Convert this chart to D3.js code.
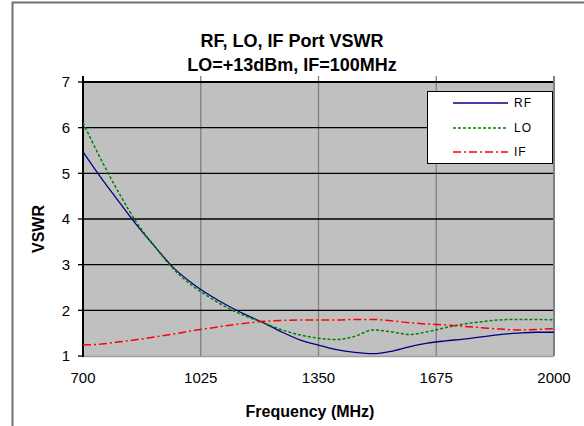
<!DOCTYPE html>
<html><head><meta charset="utf-8">
<script src="https://cdn.jsdelivr.net/npm/d3@7"></script>
<style>body{margin:0;background:#fff}svg{display:block}text{font-family:"Liberation Sans",Arial,sans-serif}</style>
</head><body><svg id="c" width="584" height="426"></svg>
<script>
const freq = [700,750,800,850,900,950,1000,1050,1100,1150,1200,1250,1300,1350,1400,1450,1500,1550,1600,1650,1700,1750,1800,1850,1900,1950,2000];
const rf = [5.47,4.90,4.37,3.85,3.38,2.93,2.60,2.33,2.10,1.90,1.72,1.52,1.35,1.24,1.14,1.08,1.05,1.10,1.20,1.28,1.33,1.37,1.42,1.47,1.50,1.52,1.52];
const lo = [6.11,5.30,4.56,3.90,3.38,2.90,2.55,2.28,2.05,1.87,1.72,1.57,1.46,1.39,1.36,1.43,1.57,1.53,1.47,1.53,1.62,1.70,1.75,1.79,1.80,1.80,1.79];
const ifv = [1.24,1.26,1.31,1.36,1.42,1.48,1.55,1.61,1.67,1.72,1.76,1.78,1.79,1.79,1.79,1.80,1.80,1.77,1.73,1.70,1.68,1.65,1.62,1.59,1.57,1.58,1.60];
const xTicks = [700,1025,1350,1675,2000];
const yTicks = [1,2,3,4,5,6,7];
const seriesNames = ["RF","LO","IF"];

const svg = d3.select("#c");
const L=83, R=554, T=82, B=356;
const x = d3.scaleLinear().domain([700,2000]).range([L,R]);
const y = d3.scaleLinear().domain([1,7]).range([B,T]);

// outer frame
svg.append("rect").attr("x",12.5).attr("y",2.5).attr("width",620).attr("height",460)
  .attr("fill","none").attr("stroke","#707070").attr("stroke-width",2);

// plot bg
svg.append("rect").attr("x",L).attr("y",T).attr("width",R-L).attr("height",B-T).attr("fill","#c0c0c0");

// vertical gridlines + top ticks
svg.append("g").selectAll("line").data(xTicks.slice(1,-1)).join("line")
  .attr("x1",d=>x(d)).attr("x2",d=>x(d)).attr("y1",T-6).attr("y2",B)
  .attr("stroke","#808080").attr("stroke-width",1.3);
// horizontal gridlines
svg.append("g").selectAll("line").data(yTicks.slice(1)).join("line")
  .attr("x1",L).attr("x2",R).attr("y1",d=>y(d)).attr("y2",d=>y(d))
  .attr("stroke","#000").attr("stroke-width",d=>d===7?2:1.3);
// bottom edge
svg.append("line").attr("x1",L).attr("x2",R).attr("y1",B+0.5).attr("y2",B+0.5).attr("stroke","#a0a0a0").attr("stroke-width",1.5);
// right edge
svg.append("line").attr("x1",R).attr("x2",R).attr("y1",T-6).attr("y2",B).attr("stroke","#808080").attr("stroke-width",2);
// left axis
svg.append("line").attr("x1",L).attr("x2",L).attr("y1",T-6).attr("y2",B+1).attr("stroke","#000").attr("stroke-width",2);
// y ticks
svg.append("g").selectAll("line").data(yTicks).join("line")
  .attr("x1",L-5).attr("x2",L).attr("y1",d=>y(d)).attr("y2",d=>y(d)).attr("stroke","#000").attr("stroke-width",1.3);
svg.append("g").selectAll("text").data(yTicks).join("text")
  .attr("x",70).attr("y",d=>y(d)).attr("dy","0.35em").attr("text-anchor","end")
  .attr("font-size",15).text(d=>d);
// x tick labels
svg.append("g").selectAll("text").data(xTicks).join("text")
  .attr("x",d=>x(d)).attr("y",383).attr("text-anchor","middle").attr("font-size",15).text(d=>d);

// lines
const line = d3.line().x((d,i)=>x(freq[i])).y(d=>y(d)).curve(d3.curveMonotoneX);
const styles = [
  {data:rf, color:"#000080", dash:null, w:1.3},
  {data:lo, color:"#008000", dash:"3,2", w:1.5},
  {data:ifv, color:"#ff0000", dash:"8,3,2,3", w:1.5}
];
const clip = svg.append("clipPath").attr("id","pc").append("rect").attr("x",L).attr("y",T).attr("width",R-L).attr("height",B-T);
styles.forEach(s=>{
  svg.append("path").attr("d",line(s.data)).attr("fill","none").attr("stroke",s.color)
    .attr("stroke-width",s.w).attr("stroke-dasharray",s.dash).attr("clip-path","url(#pc)");
});

// legend
svg.append("rect").attr("x",427.5).attr("y",91.5).attr("width",125).attr("height",72)
  .attr("fill","#fff").attr("stroke","#000").attr("stroke-width",1);
const ly = [103,128,152];
styles.forEach((s,i)=>{
  svg.append("line").attr("x1",453).attr("x2",508).attr("y1",ly[i]).attr("y2",ly[i])
    .attr("stroke",s.color).attr("stroke-width",s.w).attr("stroke-dasharray",s.dash);
  svg.append("text").attr("x",514).attr("y",ly[i]).attr("dy","0.35em").attr("font-size",12)
    .attr("letter-spacing",1).text(seriesNames[i]);
});

// titles
svg.append("text").attr("x",292).attr("y",47).attr("text-anchor","middle").attr("font-size",18).attr("font-weight","bold").text("RF, LO, IF Port VSWR");
svg.append("text").attr("x",292).attr("y",71).attr("text-anchor","middle").attr("font-size",18).attr("font-weight","bold").text("LO=+13dBm, IF=100MHz");
svg.append("text").attr("x",310).attr("y",417).attr("text-anchor","middle").attr("font-size",16).attr("font-weight","bold").text("Frequency (MHz)");
svg.append("text").attr("transform","translate(44,229) rotate(-90)").attr("text-anchor","middle").attr("font-size",16).attr("font-weight","bold").text("VSWR");
</script></body></html>
